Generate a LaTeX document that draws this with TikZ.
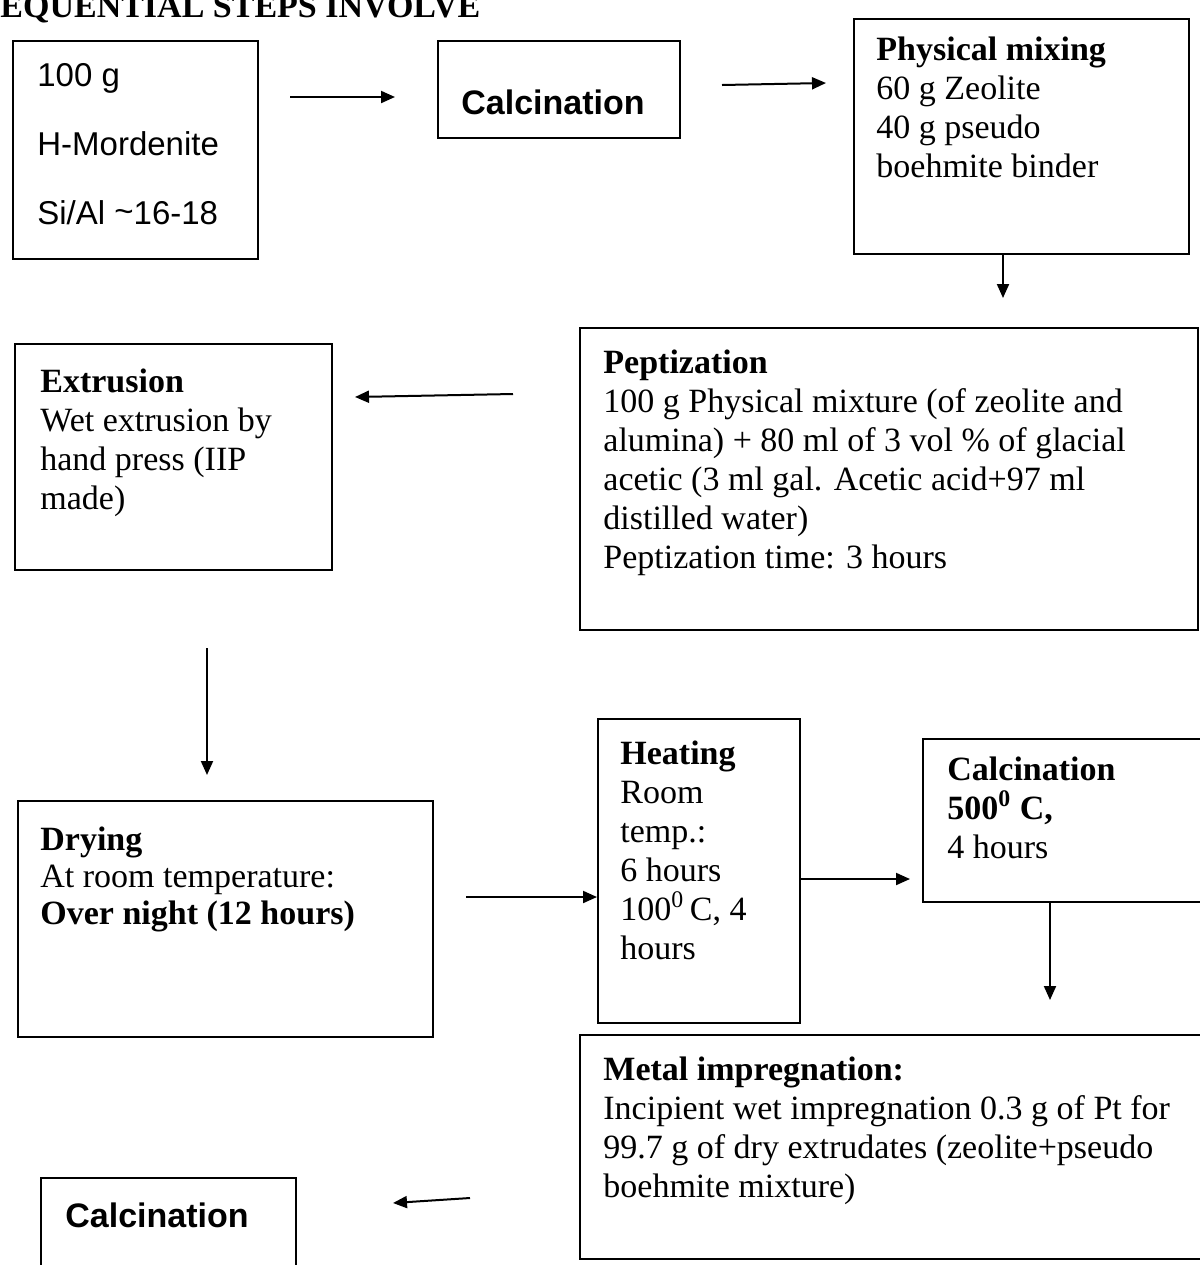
\documentclass[tikz,border=0pt]{standalone}
\usepackage{fontspec}
\setmainfont{Liberation Serif}
\setsansfont{Liberation Sans}
\usetikzlibrary{arrows.meta}
\tikzset{
  box/.style={draw, line width=1.2pt, inner sep=0pt, anchor=north west},
  txt/.style={inner sep=0pt, anchor=base west, align=left, font=\fontsize{17}{19.5}\selectfont},
  stxt/.style={inner sep=0pt, anchor=base west, align=left, font=\sffamily\fontsize{16.5}{34.5}\selectfont},
  btxt/.style={inner sep=0pt, anchor=base west, font=\sffamily\bfseries\fontsize{17}{20}\selectfont},
  conn/.style={line width=1pt, -{Triangle[length=7pt,width=6pt]}}
}
\begin{document}
\begin{tikzpicture}[x=0.5pt,y=-0.5pt]
\useasboundingbox (0,0) rectangle (1200,1265);
\clip (0,0) rectangle (1200,1265);
% title (cut at top)
\node[inner sep=0pt, anchor=base west, font=\bfseries\fontsize{17}{20}\selectfont] (title) at (0,17) {EQUENTIAL STEPS INVOLVE};
% boxes
\node[box, minimum width=122.5pt, minimum height=109pt] (mord) at (12,40) {};
\node[box, minimum width=121pt, minimum height=48.5pt] (calc1) at (437,40) {};
\node[box, minimum width=167.5pt, minimum height=117.5pt] (phys) at (853,18) {};
\node[box, minimum width=309pt, minimum height=151pt] (pept) at (579,327) {};
\node[box, minimum width=158.5pt, minimum height=113pt] (extr) at (14,343) {};
\node[box, minimum width=207.5pt, minimum height=118pt] (dry) at (17,800) {};
\node[box, minimum width=101pt, minimum height=152pt] (heat) at (597,718) {};
\node[box, minimum width=150pt, minimum height=81.5pt] (calc2) at (922,738) {};
\node[box, minimum width=320pt, minimum height=112pt] (metal) at (579,1034) {};
\node[box, minimum width=127.5pt, minimum height=60pt] (calc3) at (40,1177) {};
% texts (anchor = baseline of the last line)
\node[stxt] (mordt) at (37,224) {100 g\\H-Mordenite\\Si/Al \raisebox{0.1ex}{\char"007E}16-18};
\node[btxt] (calc1t) at (461,114) {Calcination};
\node[txt] (physt) at (876,177) {\textbf{Physical mixing}\\60 g Zeolite\\40 g pseudo\\boehmite binder};
\node[txt] (peptt) at (603,568) {\textbf{Peptization}\\100 g Physical mixture (of zeolite and\\alumina) + 80 ml of 3 vol \% of glacial\\acetic (3 ml gal. Acetic acid+97 ml\\distilled water)\\Peptization time: 3 hours};
\node[txt] (extrt) at (40,509) {\textbf{Extrusion}\\Wet extrusion by\\hand press (IIP\\made)};
\node[txt, font=\fontsize{17}{18.5}\selectfont] (dryt) at (40,924) {\textbf{Drying}\\At room temperature:\\\textbf{Over night (12 hours)}};
\node[txt] (heatt) at (620,959) {\textbf{Heating}\\Room\\temp.:\\6 hours\\100\textsuperscript{0}\,C, 4\\hours};
\node[txt] (calc2t) at (947,858) {\textbf{Calcination}\\\textbf{500\textsuperscript{0} C,}\\4 hours};
\node[txt] (metalt) at (603,1197) {\textbf{Metal impregnation:}\\Incipient wet impregnation 0.3 g of Pt for\\99.7 g of dry extrudates (zeolite+pseudo\\boehmite mixture)};
\node[btxt] (calc3t) at (65,1227) {Calcination};
% connector end points
\coordinate (a1s) at (290,97);
\coordinate (a1e) at (395,97);
\coordinate (a2s) at (722,85);
\coordinate (a2e) at (826,83);
\coordinate (a3e) at (1003,298);
\coordinate (a4s) at (513,394);
\coordinate (a4e) at (355,397);
\coordinate (a5s) at (207,648);
\coordinate (a5e) at (207,775);
\coordinate (a6s) at (466,897);
\coordinate (a7e) at (910,879);
\coordinate (a8e) at (1050,1000);
\coordinate (a9s) at (470,1198);
\coordinate (a9e) at (393,1203);
% connectors
\draw[conn] (a1s) -- (a1e);
\draw[conn] (a2s) -- (a2e);
\draw[conn] (phys.south -| a3e) -- (a3e);
\draw[conn] (a4s) -- (a4e);
\draw[conn] (a5s) -- (a5e);
\draw[conn] (a6s) -- (a6s -| heat.west);
\draw[conn] (heat.east |- a7e) -- (a7e);
\draw[conn] (calc2.south -| a8e) -- (a8e);
\draw[conn] (a9s) -- (a9e);
\end{tikzpicture}
\end{document}
